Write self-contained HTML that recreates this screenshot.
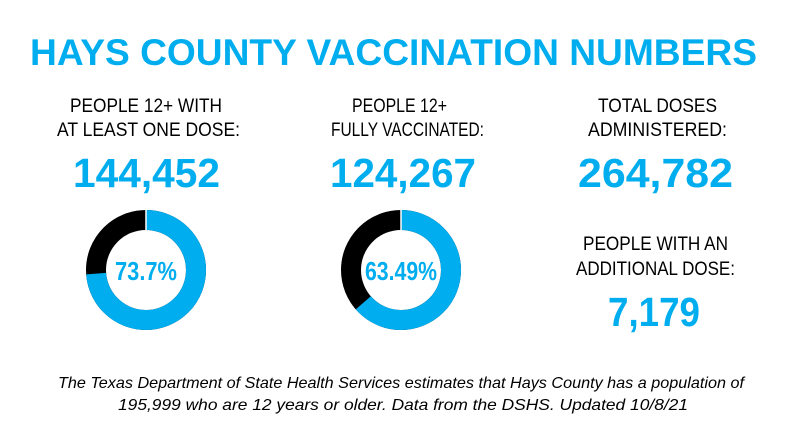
<!DOCTYPE html>
<html><head><meta charset="utf-8"><style>html,body{margin:0;padding:0;background:#fff;width:800px;height:443px;overflow:hidden}</style></head>
<body>
<svg width="800" height="443" viewBox="0 0 800 443" xmlns="http://www.w3.org/2000/svg" font-family="Liberation Sans, sans-serif">
<rect width="800" height="443" fill="#fff"/>
<text x="30" y="65" font-size="37" font-weight="bold" fill="#00adee" textLength="727" lengthAdjust="spacingAndGlyphs">HAYS COUNTY VACCINATION NUMBERS</text>
<g font-size="19" fill="#000">
<text x="70" y="112" textLength="152" lengthAdjust="spacingAndGlyphs">PEOPLE  12+ WITH</text>
<text x="57" y="136" textLength="183" lengthAdjust="spacingAndGlyphs">AT LEAST ONE DOSE:</text>
<text x="352" y="112" textLength="95" lengthAdjust="spacingAndGlyphs">PEOPLE 12+</text>
<text x="331" y="136" textLength="153" lengthAdjust="spacingAndGlyphs">FULLY VACCINATED:</text>
<text x="598" y="112" textLength="119" lengthAdjust="spacingAndGlyphs">TOTAL DOSES</text>
<text x="588" y="136" textLength="139" lengthAdjust="spacingAndGlyphs">ADMINISTERED:</text>
<text x="583" y="250" textLength="145" lengthAdjust="spacingAndGlyphs">PEOPLE WITH AN</text>
<text x="576" y="275" textLength="159" lengthAdjust="spacingAndGlyphs">ADDITIONAL DOSE:</text>
</g>
<g font-size="41" font-weight="bold" fill="#00adee">
<text x="73" y="187" textLength="147" lengthAdjust="spacingAndGlyphs">144,452</text>
<text x="330" y="187" textLength="146" lengthAdjust="spacingAndGlyphs">124,267</text>
<text x="578" y="187" textLength="155" lengthAdjust="spacingAndGlyphs">264,782</text>
<text x="608" y="326" textLength="92" lengthAdjust="spacingAndGlyphs">7,179</text>
</g>
<g transform="translate(146,270) rotate(-90)">
<circle r="50" fill="none" stroke="#000" stroke-width="20"/>
<circle r="50" fill="none" stroke="#00adee" stroke-width="20" stroke-dasharray="231.5 400"/>
</g>
<line x1="146" y1="208" x2="146" y2="232" stroke="#fff" stroke-width="1.5"/>
<g transform="translate(401,270) rotate(-90)">
<circle r="50" fill="none" stroke="#000" stroke-width="20"/>
<circle r="50" fill="none" stroke="#00adee" stroke-width="20" stroke-dasharray="199.5 400"/>
</g>
<line x1="401" y1="208" x2="401" y2="232" stroke="#fff" stroke-width="1.5"/>
<g font-size="26" font-weight="bold" fill="#00adee" text-anchor="middle">
<text x="146" y="280" textLength="62" lengthAdjust="spacingAndGlyphs">73.7%</text>
<text x="401" y="280" textLength="72" lengthAdjust="spacingAndGlyphs">63.49%</text>
</g>
<g font-size="16" font-style="italic" fill="#000">
<text x="58" y="388" textLength="686" lengthAdjust="spacingAndGlyphs">The Texas Department of State Health Services estimates that Hays County has a population of</text>
<text x="118" y="410" textLength="570" lengthAdjust="spacingAndGlyphs">195,999 who are 12 years or older. Data from the DSHS. Updated 10/8/21</text>
</g>
</svg>
</body></html>
